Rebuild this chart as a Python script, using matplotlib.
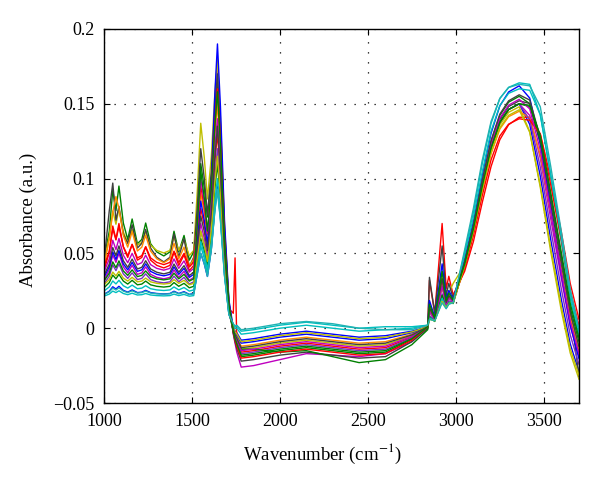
"""FTIR absorbance spectra, recreated from the figure."""
import matplotlib
matplotlib.use("Agg")
import matplotlib.pyplot as plt

plt.rcParams["font.family"] = ["Liberation Serif", "DejaVu Serif"]
plt.rcParams["mathtext.fontset"] = "stix"

WAVENUMBER = [1000, 1030, 1050, 1068, 1085, 1110, 1135, 1160, 1190, 1215,
              1237, 1265, 1300, 1340, 1375, 1398, 1425, 1455, 1485, 1510,
              1530, 1550, 1570, 1588, 1610, 1630, 1645, 1662, 1685, 1710,
              1735, 1745, 1755, 1780, 1850, 2000, 2150, 2300, 2450, 2600,
              2750, 2840, 2850, 2880, 2922, 2945, 2960, 2985,
              3050, 3100, 3150, 3200, 3250, 3300, 3360, 3420, 3480, 3540,
              3600, 3650, 3700]

spec_01 = [0.0226, 0.0247, 0.0277, 0.0262, 0.028, 0.0253, 0.0241, 0.0256, 0.0238, 0.0241,
           0.0253, 0.0238, 0.0232, 0.0229, 0.0232, 0.0247, 0.0232, 0.0244, 0.0226, 0.0232,
           0.036, 0.050, 0.0431, 0.0346, 0.0527, 0.0799, 0.095, 0.0741, 0.0361, 0.0095,
           0.0008, -0.002, -0.003, -0.008, -0.007, -0.004, -0.002, -0.004, -0.006, -0.005,
           -0.002, 0.001, 0.007, 0.0052, 0.020, 0.014, 0.0172, 0.0172,
           0.0427, 0.0664, 0.0949, 0.1205, 0.1376, 0.1462, 0.150, 0.1362, 0.1016, 0.0587,
           0.0189, -0.0104, -0.0292]
spec_02 = [0.0455, 0.0648, 0.0923, 0.0785, 0.095, 0.0703, 0.0593, 0.073, 0.0565, 0.0593,
           0.0703, 0.0565, 0.051, 0.0483, 0.051, 0.0648, 0.051, 0.062, 0.0455, 0.051,
           0.0775, 0.110, 0.0939, 0.0743, 0.1015, 0.1423, 0.165, 0.1287, 0.0627, 0.0165,
           -0.0025, -0.0075, -0.0113, -0.019, -0.018, -0.015, -0.013, -0.015, -0.017, -0.016,
           -0.0075, 0.001, 0.011, 0.006, 0.028, 0.016, 0.020, 0.018,
           0.0441, 0.0687, 0.0981, 0.1246, 0.1423, 0.1511, 0.155, 0.1501, 0.1236, 0.0824,
           0.0412, 0.0078, -0.0147]
spec_03 = [0.0385, 0.0508, 0.0683, 0.0595, 0.070, 0.0543, 0.0473, 0.056, 0.0455, 0.0473,
           0.0543, 0.0455, 0.042, 0.0403, 0.042, 0.0508, 0.042, 0.049, 0.0385, 0.042,
           0.0575, 0.080, 0.0689, 0.0553, 0.0777, 0.1113, 0.130, 0.1014, 0.0494, 0.013,
           0.010, 0.047, -0.009, -0.016, -0.015, -0.012, -0.010, -0.012, -0.014, -0.013,
           -0.006, 0.001, 0.032, 0.0102, 0.070, 0.0265, 0.0347, 0.0222,
           0.038, 0.058, 0.084, 0.108, 0.126, 0.136, 0.141, 0.141, 0.130, 0.100,
           0.064, 0.030, 0.006]
spec_04 = [0.0214, 0.0228, 0.0248, 0.0238, 0.025, 0.0232, 0.0224, 0.0234, 0.0222, 0.0224,
           0.0232, 0.0222, 0.0218, 0.0216, 0.0218, 0.0228, 0.0218, 0.0226, 0.0214, 0.0218,
           0.038, 0.055, 0.0466, 0.0363, 0.053, 0.0781, 0.092, 0.0718, 0.035, 0.0092,
           0.0026, 0.001, 0.0015, -0.002, -0.001, 0.002, 0.004, 0.002, 0.000, 0.001,
           0.001, 0.002, 0.006, 0.005, 0.018, 0.0135, 0.0165, 0.017,
           0.0507, 0.0777, 0.1098, 0.1368, 0.1535, 0.161, 0.164, 0.163, 0.1428, 0.1012,
           0.0576, 0.0203, -0.0056]
spec_05 = [0.032, 0.039, 0.049, 0.044, 0.050, 0.041, 0.037, 0.042, 0.036, 0.037,
           0.041, 0.036, 0.034, 0.033, 0.034, 0.039, 0.034, 0.038, 0.032, 0.034,
           0.050, 0.070, 0.0601, 0.048, 0.0861, 0.1433, 0.175, 0.1365, 0.0665, 0.0175,
           -0.004, -0.010, -0.016, -0.026, -0.025, -0.021, -0.017, -0.018, -0.019, -0.017,
           -0.009, 0.000, 0.0135, 0.0065, 0.033, 0.0172, 0.0217, 0.0185,
           0.0427, 0.0664, 0.0949, 0.1205, 0.1376, 0.1462, 0.150, 0.1422, 0.1136, 0.0727,
           0.0329, 0.0016, -0.0192]
spec_06 = [0.045, 0.0608, 0.0783, 0.0695, 0.080, 0.0643, 0.0573, 0.066, 0.0555, 0.0573,
           0.0643, 0.0555, 0.052, 0.0503, 0.052, 0.0608, 0.052, 0.059, 0.0485, 0.052,
           0.091, 0.137, 0.1143, 0.0864, 0.1145, 0.1566, 0.180, 0.1404, 0.0684, 0.018,
           -0.001, -0.005, -0.0075, -0.014, -0.013, -0.010, -0.008, -0.010, -0.012, -0.011,
           -0.005, 0.001, 0.016, 0.007, 0.038, 0.0185, 0.0235, 0.030,
           0.0422, 0.0656, 0.0937, 0.119, 0.1359, 0.1443, 0.148, 0.1314, 0.0941, 0.0507,
           0.0114, -0.0165, -0.0341]
spec_07 = [0.0443, 0.0784, 0.097, 0.0722, 0.0815, 0.0629, 0.0567, 0.0691, 0.0536, 0.0567,
           0.066, 0.0536, 0.0474, 0.0443, 0.0474, 0.0629, 0.0474, 0.0598, 0.0412, 0.0474,
           0.080, 0.120, 0.1002, 0.076, 0.1042, 0.1465, 0.170, 0.1326, 0.0646, 0.017,
           -0.0034, -0.009, -0.0135, -0.022, -0.021, -0.018, -0.016, -0.018, -0.020, -0.019,
           -0.009, 0.000, 0.034, 0.010, 0.055, 0.022, 0.030, 0.020,
           0.0433, 0.0673, 0.0962, 0.1222, 0.1395, 0.1482, 0.152, 0.1502, 0.1272, 0.0878,
           0.0474, 0.0137, -0.032]
spec_08 = [0.0412, 0.0594, 0.0776, 0.088, 0.0802, 0.062, 0.0542, 0.0646, 0.0516, 0.0542,
           0.062, 0.0516, 0.0464, 0.0438, 0.0464, 0.0568, 0.0464, 0.0542, 0.0412, 0.0464,
           0.065, 0.090, 0.0776, 0.0625, 0.0888, 0.1281, 0.150, 0.117, 0.057, 0.015,
           -0.0004, -0.004, -0.006, -0.012, -0.011, -0.008, -0.006, -0.008, -0.010, -0.009,
           -0.004, 0.002, 0.011, 0.006, 0.028, 0.016, 0.020, 0.018,
           0.0413, 0.0643, 0.0918, 0.1166, 0.1331, 0.1414, 0.145, 0.1404, 0.1157, 0.0771,
           0.0386, 0.0073, -0.0138]
spec_09 = [0.0295, 0.0348, 0.0423, 0.0385, 0.043, 0.0363, 0.0333, 0.037, 0.0325, 0.0333,
           0.0363, 0.0325, 0.031, 0.0303, 0.031, 0.0348, 0.031, 0.034, 0.0295, 0.031,
           0.0465, 0.065, 0.0559, 0.0447, 0.0673, 0.1012, 0.120, 0.0936, 0.0456, 0.012,
           -0.0019, -0.0065, -0.0098, -0.017, -0.016, -0.013, -0.011, -0.013, -0.015, -0.014,
           -0.0065, 0.001, 0.0085, 0.0055, 0.023, 0.0148, 0.0183, 0.0175,
           0.0427, 0.0664, 0.0949, 0.1205, 0.1376, 0.1462, 0.150, 0.1392, 0.1076, 0.0657,
           0.0259, -0.0044, -0.0242]
spec_10 = [0.034, 0.041, 0.051, 0.046, 0.052, 0.043, 0.039, 0.044, 0.038, 0.039,
           0.043, 0.038, 0.036, 0.035, 0.036, 0.041, 0.036, 0.040, 0.034, 0.036,
           0.0585, 0.085, 0.072, 0.0559, 0.0961, 0.1565, 0.190, 0.1482, 0.0722, 0.019,
           0.0002, -0.003, -0.0045, -0.010, -0.009, -0.006, -0.004, -0.006, -0.008, -0.007,
           -0.003, 0.001, 0.0185, 0.0075, 0.043, 0.0198, 0.0252, 0.0195,
           0.0461, 0.0718, 0.1025, 0.1302, 0.1486, 0.1579, 0.162, 0.1538, 0.1232, 0.0791,
           0.0361, 0.0022, -0.0204]
spec_11 = [0.027, 0.0305, 0.0355, 0.033, 0.036, 0.0315, 0.0295, 0.032, 0.029, 0.0295,
           0.0315, 0.029, 0.028, 0.0275, 0.028, 0.0305, 0.028, 0.030, 0.027, 0.028,
           0.043, 0.060, 0.0516, 0.0413, 0.0619, 0.0928, 0.110, 0.0858, 0.0418, 0.011,
           -0.002, -0.006, -0.009, -0.014, -0.014, -0.016, -0.015, -0.019, -0.023, -0.021,
           -0.011, -0.001, 0.0075, 0.0045, 0.022, 0.0138, 0.0173, 0.0165,
           0.0427, 0.0664, 0.0949, 0.1205, 0.1376, 0.1462, 0.150, 0.1482, 0.1256, 0.0867,
           0.0469, 0.0136, -0.0092]
spec_12 = [0.041, 0.0515, 0.0665, 0.059, 0.068, 0.0545, 0.0485, 0.056, 0.047, 0.0485,
           0.0545, 0.047, 0.044, 0.0425, 0.044, 0.0515, 0.044, 0.050, 0.041, 0.044,
           0.0665, 0.095, 0.081, 0.0637, 0.0926, 0.1359, 0.160, 0.1248, 0.0608, 0.016,
           -0.0028, -0.008, -0.012, -0.020, -0.019, -0.016, -0.014, -0.016, -0.018, -0.017,
           -0.008, 0.001, 0.0135, 0.0065, 0.033, 0.0172, 0.0217, 0.0185,
           0.0399, 0.062, 0.0886, 0.1125, 0.1285, 0.1364, 0.140, 0.139, 0.1296, 0.0954,
           0.0582, 0.0251, 0.0017]
spec_13 = [0.0248, 0.0276, 0.0316, 0.0296, 0.032, 0.0284, 0.0268, 0.0288, 0.0264, 0.0268,
           0.0284, 0.0264, 0.0256, 0.0252, 0.0256, 0.0276, 0.0256, 0.0272, 0.0248, 0.0256,
           0.041, 0.058, 0.0496, 0.0393, 0.0575, 0.0848, 0.100, 0.078, 0.038, 0.010,
           0.002, 0.000, 0.000, -0.004, -0.003, 0.000, 0.002, 0.000, -0.002, -0.001,
           0.000, 0.002, 0.007, 0.005, 0.020, 0.014, 0.017, 0.017,
           0.0486, 0.0739, 0.1043, 0.1316, 0.1488, 0.157, 0.160, 0.159, 0.1426, 0.1026,
           0.060, 0.0231, -0.0027]
spec_14 = [0.0375, 0.0463, 0.0588, 0.0525, 0.060, 0.0488, 0.0438, 0.050, 0.0425, 0.0438,
           0.0488, 0.0425, 0.040, 0.0388, 0.040, 0.0463, 0.040, 0.045, 0.0375, 0.040,
           0.0675, 0.100, 0.0839, 0.0643, 0.087, 0.1211, 0.140, 0.1092, 0.0532, 0.014,
           -0.0013, -0.0055, -0.0083, -0.015, -0.014, -0.011, -0.009, -0.011, -0.013, -0.012,
           -0.0055, 0.001, 0.011, 0.006, 0.028, 0.016, 0.020, 0.018,
           0.0436, 0.0678, 0.0968, 0.123, 0.1404, 0.1491, 0.153, 0.1466, 0.119, 0.0778,
           0.0372, 0.0047, -0.017]
spec_15 = [0.029, 0.0325, 0.0375, 0.035, 0.038, 0.0335, 0.0315, 0.034, 0.031, 0.0315,
           0.0335, 0.031, 0.030, 0.0295, 0.030, 0.0325, 0.030, 0.032, 0.029, 0.030,
           0.0465, 0.065, 0.0559, 0.0447, 0.0658, 0.0974, 0.115, 0.0897, 0.0437, 0.0115,
           0.0005, -0.0025, -0.0038, -0.009, -0.008, -0.005, -0.003, -0.005, -0.007, -0.006,
           -0.0025, 0.001, 0.006, 0.005, 0.018, 0.0135, 0.0165, 0.017,
           0.0416, 0.0647, 0.0924, 0.1173, 0.134, 0.1423, 0.146, 0.1309, 0.0954, 0.0531,
           0.0143, -0.0136, -0.0314]
spec_16 = [0.0352, 0.0429, 0.0539, 0.0484, 0.055, 0.0451, 0.0407, 0.0462, 0.0396, 0.0407,
           0.0451, 0.0396, 0.0374, 0.0363, 0.0374, 0.0429, 0.0374, 0.0418, 0.0352, 0.0374,
           0.054, 0.075, 0.0647, 0.0519, 0.0768, 0.1142, 0.135, 0.1053, 0.0513, 0.0135,
           -0.0007, -0.0045, -0.0068, -0.013, -0.012, -0.009, -0.007, -0.009, -0.011, -0.010,
           -0.0045, 0.001, 0.0135, 0.0065, 0.033, 0.0172, 0.0217, 0.0185,
           0.0444, 0.0691, 0.0987, 0.1254, 0.1431, 0.152, 0.156, 0.1525, 0.1274, 0.0864,
           0.045, 0.0109, -0.0123]
spec_17 = [0.0315, 0.0368, 0.0443, 0.0405, 0.045, 0.0383, 0.0353, 0.039, 0.0345, 0.0353,
           0.0383, 0.0345, 0.033, 0.0323, 0.033, 0.0368, 0.033, 0.036, 0.0315, 0.033,
           0.0685, 0.105, 0.087, 0.0649, 0.0928, 0.1347, 0.158, 0.1232, 0.060, 0.0158,
           -0.0022, -0.007, -0.0105, -0.018, -0.017, -0.014, -0.012, -0.014, -0.016, -0.015,
           -0.007, 0.001, 0.016, 0.007, 0.038, 0.0185, 0.0235, 0.019,
           0.0427, 0.0664, 0.0949, 0.1205, 0.1376, 0.1462, 0.150, 0.149, 0.1286, 0.0902,
           0.0504, 0.0166, -0.0067]
spec_18 = [0.0225, 0.0243, 0.0268, 0.0255, 0.027, 0.0248, 0.0238, 0.025, 0.0235, 0.0238,
           0.0248, 0.0235, 0.023, 0.0228, 0.023, 0.0243, 0.023, 0.024, 0.0225, 0.023,
           0.036, 0.050, 0.0431, 0.0346, 0.0521, 0.0784, 0.093, 0.0725, 0.0353, 0.0093,
           0.003, 0.0015, 0.002, -0.001, 0.000, 0.003, 0.0045, 0.003, 0.000, -0.001,
           -0.001, 0.002, 0.006, 0.005, 0.017, 0.013, 0.016, 0.017,
           0.0524, 0.0802, 0.1122, 0.1381, 0.1536, 0.1609, 0.163, 0.162, 0.148, 0.1077,
           0.0643, 0.0263, -0.0005]

SPECTRA = [spec_01, spec_02, spec_03, spec_04, spec_05, spec_06, spec_07, spec_08, spec_09,
           spec_10, spec_11, spec_12, spec_13, spec_14, spec_15, spec_16, spec_17, spec_18]
COLORS = ["#0000ff", "#008000", "#ff0000", "#00bfbf", "#bf00bf", "#bfbf00", "#404040",
          "#ff8c00", "#7a2fc0", "#0000ff", "#008000", "#ff0000", "#00bfbf", "#bf00bf",
          "#bfbf00", "#404040", "#008000", "#20b2b2"]

X_TICKS = [1000, 1500, 2000, 2500, 3000, 3500]
Y_TICKS = [-0.05, 0, 0.05, 0.1, 0.15, 0.2]
Y_TICK_LABELS = ["\u22120.05", "0", "0.05", "0.1", "0.15", "0.2"]

fig = plt.figure(figsize=(6, 4.83), dpi=100)
ax = fig.add_axes([0.1733, 0.1656, 0.7917, 0.7744])

for spec, col in zip(SPECTRA, COLORS):
    ax.plot(WAVENUMBER, spec, color=col, lw=1.0)

ax.set_xlim(1000, 3700)
ax.set_ylim(-0.05, 0.2)
ax.set_xticks(X_TICKS)
ax.set_yticks(Y_TICKS)
ax.set_yticklabels(Y_TICK_LABELS)
ax.tick_params(direction="in", top=True, right=True, length=4, width=0.8,
               labelsize=13, pad=7)
ax.grid(True, color="black", linestyle=(0, (1, 7)), linewidth=0.9)
ax.set_axisbelow(True)
for sp in ax.spines.values():
    sp.set_linewidth(1.0)

ax.set_xlabel("Wavenumber (cm$^{-1}$)", fontsize=13.5)
ax.set_ylabel("Absorbance (a.u.)", fontsize=13.5)
ax.xaxis.set_label_coords(0.46, -0.105)
ax.yaxis.set_label_coords(-0.14, 0.49)

fig.savefig("out.png", dpi=100)
